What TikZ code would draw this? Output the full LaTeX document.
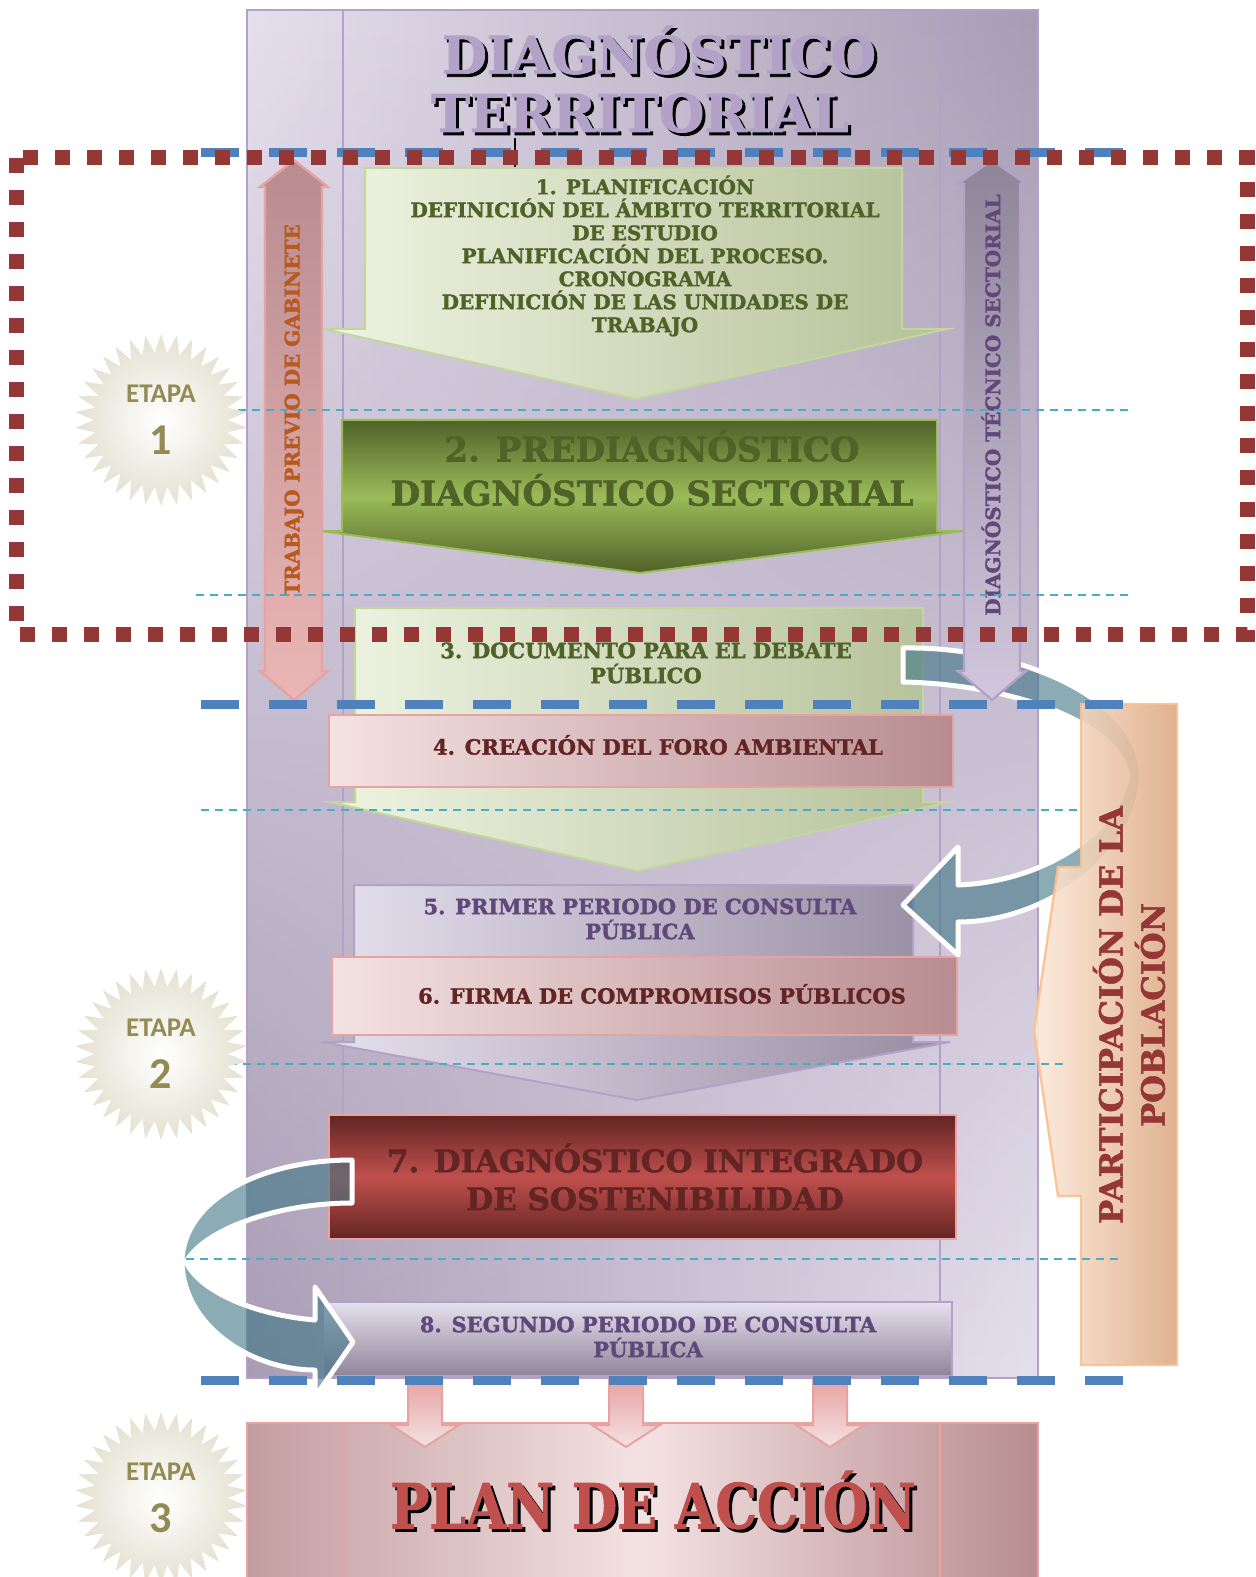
\documentclass[tikz,border=0pt]{standalone}
\usepackage{fontspec}
\setmainfont{DejaVu Serif}[BoldFeatures={FakeBold=1.6}]
\newfontfamily\etapafont{Carlito}
\usetikzlibrary{shapes.geometric,fadings}

\definecolor{lilacA}{HTML}{E6E0EE}
\definecolor{lilacB}{HTML}{A89CB4}
\definecolor{lilacline}{HTML}{B3A2C7}
\definecolor{olive}{HTML}{4F6228}
\definecolor{oliveL}{HTML}{9BBB59}
\definecolor{paleA}{HTML}{EEF4E2}
\definecolor{paleB}{HTML}{B5C199}
\definecolor{paleline}{HTML}{C3D69B}
\definecolor{rosA}{HTML}{F4E2E2}
\definecolor{rosB}{HTML}{B88C90}
\definecolor{rosline}{HTML}{E6A3A2}
\definecolor{wine}{HTML}{632523}
\definecolor{brick}{HTML}{C0504D}
\definecolor{plum}{HTML}{5F497A}
\definecolor{peachA}{HTML}{FDEADA}
\definecolor{peachB}{HTML}{DDAA85}
\definecolor{peachline}{HTML}{FAC090}
\definecolor{dotred}{HTML}{953735}
\definecolor{dashblue}{HTML}{4F81BD}
\definecolor{guide}{HTML}{4BACC6}
\definecolor{bandteal}{HTML}{3E7585}
\definecolor{etapagold}{HTML}{948A54}
\definecolor{starrim}{HTML}{E4E1D0}
\definecolor{rustbrown}{HTML}{B85A1E}

\tikzfading[name=fadeup, top color=transparent!100, bottom color=transparent!0]

\begin{document}
\begin{tikzpicture}[x=0.5pt,y=-0.5pt,
  box text/.style={font=\bfseries\fontsize{10.5}{12.5}\selectfont, align=center, inner sep=0pt},
  olive text/.style={box text, text=olive},
  plum text/.style={box text, text=plum},
  wine text/.style={box text, text=wine},
  title text/.style={font=\bfseries\fontsize{26}{31}\selectfont, text=lilacline, inner sep=0pt},
  guide line/.style={guide, line width=1pt, dash pattern=on 4pt off 3pt},
  stage line/.style={dashblue, line width=4.5pt, dash pattern=on 19pt off 15pt},
  band/.style={fill=bandteal, fill opacity=0.6, draw=white, line width=2.5pt, line join=round},
  etapa star/.style={star, star points=34, star point ratio=1.28, minimum size=86pt,
    inner color=white, outer color=starrim, inner sep=0pt},
  etapa text/.style={font=\etapafont\bfseries\fontsize{13.5}{14}\selectfont, text=etapagold, inner sep=0pt}]
\useasboundingbox (0,0) rectangle (1255,1577);
\fill[white] (0,0) rectangle (1255,1577);

% background panels
\shade[left color=lilacA, right color=lilacB] (247,10) rectangle (1038,1378);
\shade[left color=lilacB, right color=lilacA, path fading=fadeup] (247,10) rectangle (1038,1378);
\draw[lilacline, line width=0.8pt] (247,10) rectangle (1038,1378) (343,10) -- (343,1378) (940,10) -- (940,1378);
\shade[left color=rosB!85, right color=rosB, middle color=rosA] (247,1423) rectangle (1038,1577);
\draw[rosline, line width=0.8pt] (247,1577) |- (1038,1423) -- (1038,1577) (343,1423) -- (343,1577) (940,1423) -- (940,1577);
\draw[black, line width=0.8pt] (515,138) -- (515,168);

% title
\node[title text, text=black] (tit1s) at (662,53) {DIAGNÓSTICO};
\node[title text] (tit1) at (659,50) {DIAGNÓSTICO};
\node[title text, text=black] (tit2s) at (643,116) {TERRITORIAL};
\node[title text] (tit2) at (640,113) {TERRITORIAL};

% steps
\shade[left color=paleA, right color=paleB, draw=paleline, line width=1pt]
  (365,168) -- (902,168) -- (902,329) -- (947,329) -- (636,399) -- (324,329) -- (365,329) -- cycle;
\shade[top color=olive, bottom color=olive, middle color=oliveL, draw=oliveL, line width=1pt]
  (342,420) -- (937,420) -- (937,531) -- (963,531) -- (640,573) -- (320,531) -- (342,531) -- cycle;
\shade[left color=paleA, right color=paleB, draw=paleline, line width=1pt]
  (355,608) -- (923,608) -- (923,802) -- (950,802) -- (637,871) -- (330,802) -- (355,802) -- cycle;
\shade[left color=rosA, right color=rosB, draw=rosline, line width=1pt] (329,715) rectangle (953,787);
\shade[left color=lilacA, right color=lilacB!90!black, draw=lilacline, line width=1pt]
  (354,885) -- (913,885) -- (913,1042) -- (950,1042) -- (637,1100) -- (322,1042) -- (354,1042) -- cycle;
\shade[left color=rosA, right color=rosB, draw=rosline, line width=1pt] (332,957) rectangle (957,1035);
\shade[top color=wine, bottom color=wine, middle color=brick, draw=rosline, line width=1pt] (329,1115) rectangle (956,1239);
\shade[top color=lilacA, bottom color=lilacB!85!black, draw=lilacline, line width=1pt] (323,1302) rectangle (952,1376);

\node[olive text, font=\bfseries\fontsize{10}{11.5}\selectfont] (s1) at (645,256)
  {1. PLANIFICACIÓN\\DEFINICIÓN DEL ÁMBITO TERRITORIAL\\DE ESTUDIO\\PLANIFICACIÓN DEL PROCESO.\\CRONOGRAMA\\DEFINICIÓN DE LAS UNIDADES DE\\TRABAJO};
\node[olive text, font=\bfseries\fontsize{17}{22}\selectfont] (s2) at (652,468) {2. PREDIAGNÓSTICO\\DIAGNÓSTICO SECTORIAL};
\node[olive text] (s3) at (646,663) {3. DOCUMENTO PARA EL DEBATE\\PÚBLICO};
\node[wine text] (s4) at (658,745) {4. CREACIÓN DEL FORO AMBIENTAL};
\node[plum text] (s5) at (640,919) {5. PRIMER PERIODO DE CONSULTA\\PÚBLICA};
\node[wine text] (s6) at (662,994) {6. FIRMA DE COMPROMISOS PÚBLICOS};
\node[wine text, font=\bfseries\fontsize{15.5}{19}\selectfont] (s7) at (655,1177) {7. DIAGNÓSTICO INTEGRADO\\DE SOSTENIBILIDAD};
\node[plum text] (s8) at (648,1337) {8. SEGUNDO PERIODO DE CONSULTA\\PÚBLICA};

% arrows into the plan
\foreach \x in {425,626,830}
  \shade[top color=rosline, bottom color=rosA, draw=rosline, line width=1pt]
    ({\x-17},1380) -- ({\x+17},1380) -- ({\x+17},1425) -- ({\x+34},1425) -- (\x,1447)
    -- ({\x-34},1425) -- ({\x-17},1425) -- cycle;
\node[font=\bfseries\fontsize{31}{31}\selectfont, text=black, inner sep=0pt] (plans) at (656,1503) {\scalebox{0.84}[1]{PLAN DE ACCIÓN}};
\node[font=\bfseries\fontsize{31}{31}\selectfont, text=brick, inner sep=0pt] (plan) at (653,1500) {\scalebox{0.84}[1]{PLAN DE ACCIÓN}};

% curved arrows
\draw[band] (903,648) .. controls (1020,646) and (1141,700) .. (1141,775)
  .. controls (1141,850) and (1050,922) .. (958,922)
  -- (958,955) -- (903,905) -- (958,847) -- (958,885)
  .. controls (1040,882) and (1118,835) .. (1128,775)
  .. controls (1118,722) and (1010,684) .. (903,682) -- cycle;
\draw[band] (352,1160) .. controls (260,1160) and (183,1200) .. (182,1262)
  .. controls (183,1325) and (250,1370) .. (315,1370)
  -- (315,1397) -- (353,1342) -- (315,1287) -- (315,1320)
  .. controls (255,1315) and (200,1292) .. (186,1262)
  .. controls (205,1228) and (280,1203) .. (352,1203) -- cycle;

% side arrows
\shade[top color=rosB, bottom color=rosline!80, draw=rosline, line width=1.2pt]
  (294,160) -- (328,187) -- (322,187) -- (322,671) -- (328,671) -- (294,700)
  -- (260,671) -- (265,671) -- (265,187) -- (260,187) -- cycle;
\node[box text, font=\bfseries\fontsize{10}{12}\selectfont, text=rustbrown, rotate=90] (gab) at (294,410) {TRABAJO PREVIO DE GABINETE};
\shade[top color=lilacB!85!black, bottom color=lilacline!60, draw=lilacline, line width=1.2pt]
  (992,160) -- (1026,184) -- (1020,184) -- (1020,671) -- (1026,671) -- (992,700)
  -- (958,671) -- (964,671) -- (964,184) -- (958,184) -- cycle;
\node[box text, font=\bfseries\fontsize{10}{12}\selectfont, text=plum, rotate=90] (sec) at (991,405) {DIAGNÓSTICO TÉCNICO SECTORIAL};

\shade[left color=peachA, right color=peachB, draw=peachline, line width=1.2pt, opacity=0.9]
  (1081,704) -- (1177,704) -- (1177,1365) -- (1081,1365) -- (1081,1196) -- (1058,1196)
  -- (1034,1031) -- (1058,867) -- (1081,867) -- cycle;
\node[box text, font=\bfseries\fontsize{16}{21}\selectfont, text=dotred, rotate=90] (pob) at (1129,1015) {PARTICIPACIÓN DE LA\\POBLACIÓN};

% guide lines
\foreach \y/\a/\b in {410/196/1131, 595/196/1131, 810/201/1081, 1064/201/1066, 1259/186/1121}
  \draw[guide line] (\a,\y) -- (\b,\y);
\foreach \y in {153,704,1380}
  \draw[stage line] (201,\y) -- (1126,\y);
\draw[dotred, line width=7.5pt, dash pattern=on 7.5pt off 8.5pt] (16,158) rectangle (1247,634);

% etapas
\foreach \n/\y in {1/420, 2/1054, 3/1498}{
  \node[etapa star] (star\n) at (161,\y) {};
  \node[etapa text] (etapa\n) at ([yshift=13pt]star\n.center) {ETAPA};
  \node[etapa text, font=\etapafont\bfseries\fontsize{22}{22}\selectfont] (num\n) at ([yshift=-10pt]star\n.center) {\n};
}
\end{tikzpicture}
\end{document}
